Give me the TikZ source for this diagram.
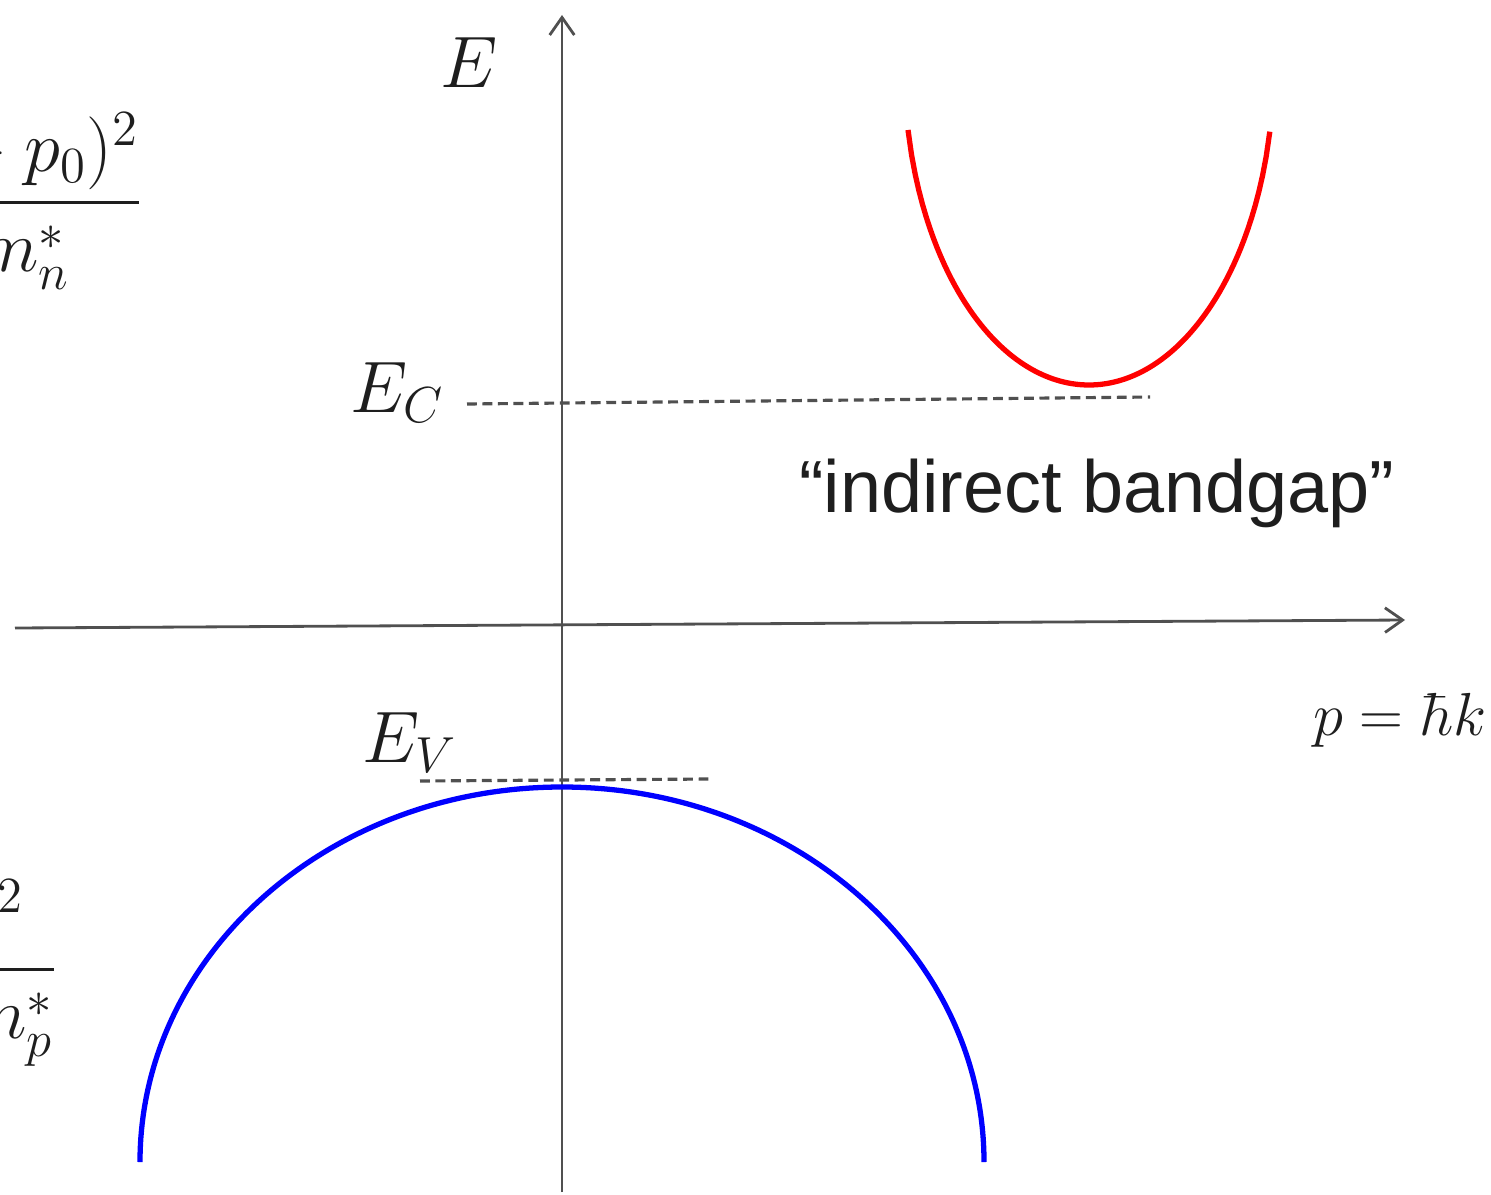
\documentclass[tikz,border=0pt]{standalone}
\usepackage{amsmath,amssymb}
\usepackage{fontspec}
\setsansfont{Liberation Sans}
\usepackage{tikz}
\usetikzlibrary{arrows.meta, calc}

\definecolor{axisgray}{RGB}{80,80,80}
\definecolor{textgray}{RGB}{30,30,30}

\begin{document}
\begin{tikzpicture}[
    x=0.01cm, y=-0.01cm,
    axis/.style={draw=axisgray, line width=0.8pt},
    level/.style={draw=axisgray, line width=0.9pt, dash pattern=on 2.8pt off 1.6pt},
    band/.style={line width=1.5pt},
    sym/.style={font=\fontsize{22}{26}\selectfont, inner sep=0pt, text=textgray}
]
    % Frame
    \path[clip, use as bounding box] (0,0) rectangle (1491,1194);

    % Axes
    \coordinate (ebottom) at (562,1192);
    \coordinate (etop) at (562,15);
    \coordinate (pleft) at (15,628);
    \coordinate (pright) at (1405,620);
    \draw[axis, -{Straight Barb[length=5pt, width=7pt]}] (ebottom) -- (etop);
    \draw[axis, -{Straight Barb[length=5pt, width=7pt]}] (pleft) -- (pright);

    % Band edges
    \coordinate (ecl) at (467,404);
    \coordinate (ecr) at (1150,397);
    \draw[level] (ecl) -- (ecr);
    \coordinate (evl) at (420,781);
    \coordinate (evr) at (710,779);
    \draw[level] (evl) -- (evr);

    % Conduction band
    \draw[band, red] plot[domain=-1:1, samples=101]
        ({1089+181*\x}, {385-255*(1-sqrt(1-0.9604*\x*\x))/0.801});

    % Valence band
    \draw[band, blue] (140,1162) arc[start angle=180, end angle=360, x radius=422, y radius=375];

    % Labels
    \node[sym, anchor=base west] (elabel) at (440,88) {$E$};
    \node[sym, anchor=base west] (eclabel) at (350,412) {$E_C$};
    \node[sym, anchor=base west] (evlabel) at (362,762) {$E_V$};
    \node[sym, font=\fontsize{18}{22}\selectfont, anchor=base east] (plabel) at (1487,735) {$p = \hbar k$};
    \node[font=\sffamily\fontsize{21}{25}\selectfont, inner sep=0pt, text=textgray] (gaplabel) at (1097,493) {“indirect bandgap”};

    % Cut-off formulas
    \node[sym, anchor=base east] (cbform) at (144,221) {$\displaystyle\frac{(p-p_0)^2}{2m_n^*}$};
    \node[sym, anchor=base east] (vbform) at (59,988) {$\displaystyle\frac{p^2}{2m_p^*}$};
\end{tikzpicture}
\end{document}
